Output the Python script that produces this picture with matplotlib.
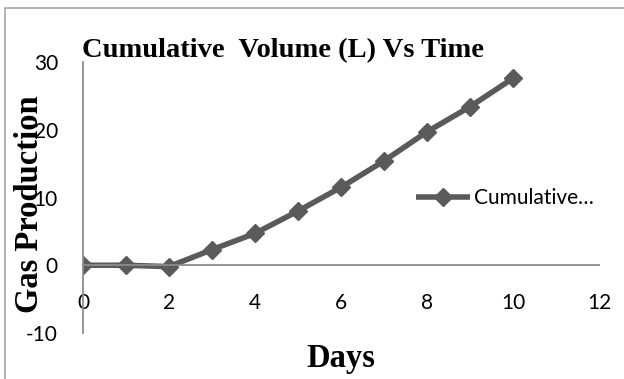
import matplotlib.pyplot as plt
from matplotlib.patches import Rectangle

plt.rcParams['axes.unicode_minus'] = False

# Cumulative gas volume per day
days = [0, 1, 2, 3, 4, 5, 6, 7, 8, 9, 10]
cumulative_volume = [0, 0, -0.2, 2.3, 4.7, 8.0, 11.5, 15.4, 19.7, 23.4, 27.6]
x_ticks = [0, 2, 4, 6, 8, 10, 12]
y_ticks = [-10, 0, 10, 20, 30]

W, H = 624, 379
fig = plt.figure(figsize=(W / 100, H / 100), dpi=100)
ax = fig.add_axes([83 / W, 1 - 333 / H, (599 - 83) / W, (333 - 62) / H])

line_color = '#5a5a5a'
axis_color = '#8c8c8c'

ax.plot(days, cumulative_volume, color=line_color, lw=4, marker='D',
        markersize=9.5, label='Cumulative…', solid_capstyle='butt')

ax.set_xlim(0, 12)
ax.set_ylim(-10, 30)
ax.set_xticks(x_ticks)
ax.set_yticks(y_ticks)
ax.tick_params(labelsize=15, labelfontfamily='Lato', length=0)
ax.tick_params(axis='x', pad=20)
ax.tick_params(axis='y', pad=18)

for side in ['top', 'right']:
    ax.spines[side].set_visible(False)
ax.spines['bottom'].set_position(('data', 0))
ax.spines['left'].set_position(('data', 0))
for side in ['bottom', 'left']:
    ax.spines[side].set_color(axis_color)
    ax.spines[side].set_linewidth(1.3)

# outer chart border
fig.patches.append(Rectangle((5 / W, -0.1), 1.2, 1 - 8 / H + 0.1,
                             transform=fig.transFigure, fill=False,
                             edgecolor='#a6a6a6', lw=1.2))

serif = dict(family='Liberation Serif', weight='bold')
fig.text(82 / W, 1 - 57 / H, 'Cumulative  Volume (L) Vs Time',
         ha='left', va='baseline', size=20.5, **serif)
fig.text(30 / W, 1 - 204 / H, 'Gas Production', rotation=90,
         ha='center', va='center', size=23.5, **serif)
fig.text(341 / W, 1 - 358 / H, 'Days', ha='center', va='center',
         size=23.5, **serif)

ax.legend(loc='center left', bbox_to_anchor=(416 / W, 1 - 198 / H),
          bbox_transform=fig.transFigure, frameon=False, borderpad=0,
          borderaxespad=0, handlelength=2.6, handletextpad=0.2,
          prop=dict(family='Lato', size=15))

fig.savefig('out.png', dpi=100)
